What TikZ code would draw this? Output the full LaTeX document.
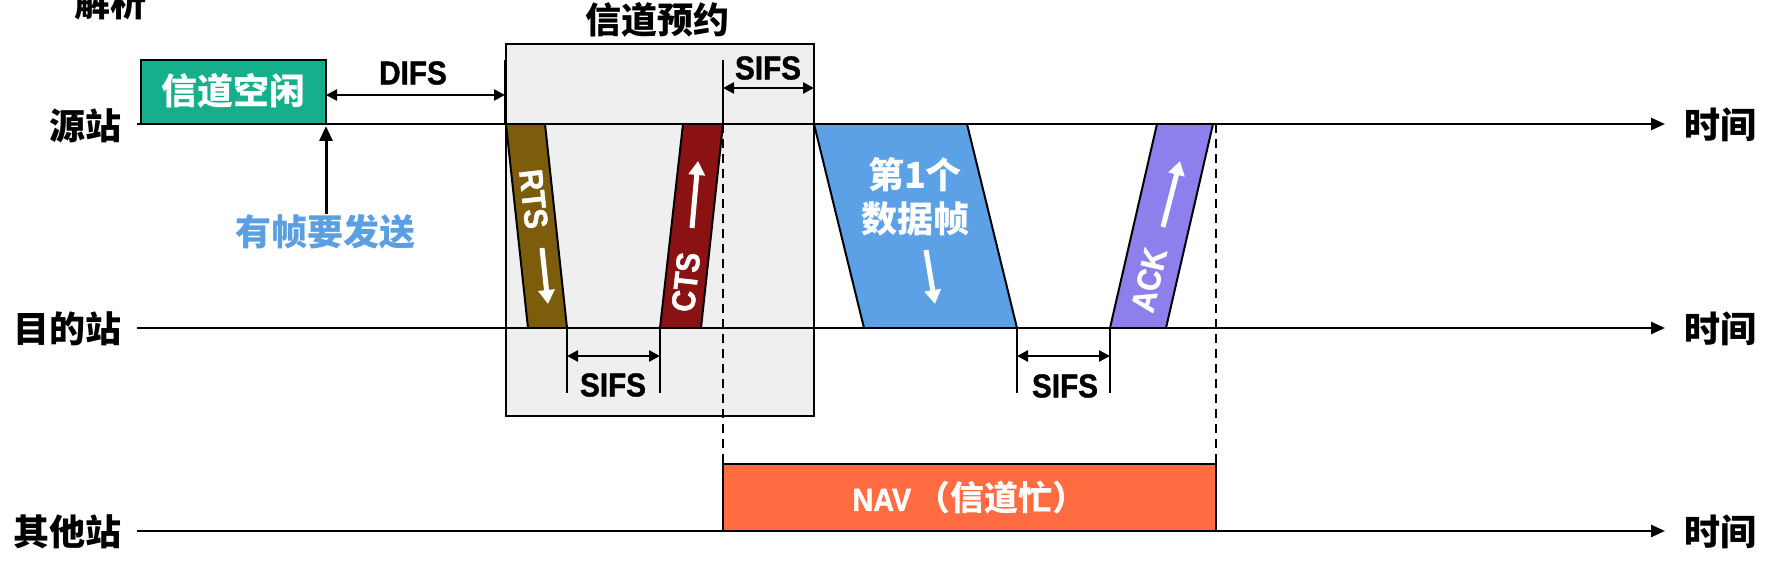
\documentclass[tikz,border=0pt]{standalone}
\usepackage{fontspec}
\setmainfont{Liberation Sans}[FakeStretch=0.9, BoldFeatures={FakeBold=1.2}]
\newfontfamily\cjkf{Noto Sans CJK SC}
\usetikzlibrary{arrows.meta}
\definecolor{idlegreen}{RGB}{22,175,140}
\definecolor{sendblue}{RGB}{91,158,226}
\definecolor{rtsbrown}{RGB}{125,92,12}
\definecolor{ctsred}{RGB}{138,18,18}
\definecolor{datablue}{RGB}{92,160,230}
\definecolor{ackpurple}{RGB}{142,128,236}
\definecolor{navorange}{RGB}{255,108,66}
\definecolor{boxgray}{RGB}{239,239,239}
\begin{document}
\begin{tikzpicture}[x=1pt,y=-1pt,
  cjkbig/.style={font=\cjkf\bfseries\fontsize{36}{40}\selectfont, inner sep=0pt},
  latbig/.style={font=\bfseries\fontsize{33}{36}\selectfont, inner sep=0pt},
  axisline/.style={line width=2.5pt, -{Triangle[length=14pt,width=12pt]}},
  dimarrow/.style={line width=2.5pt, {Triangle[length=11pt,width=11pt]}-{Triangle[length=11pt,width=11pt]}},
  tickline/.style={line width=2pt},
  framepoly/.style={draw=black, line width=2pt},
  whitearrow/.style={white, line width=5pt, -{Triangle[length=14pt,width=16pt]}},
  dashline/.style={line width=2pt, dash pattern=on 9pt off 6pt},
  plainbox/.style={draw=black, line width=2.5pt, inner sep=0pt, outer sep=0pt}
]
\useasboundingbox (0,0) rectangle (1765,561);

% reservation box
\node[plainbox, fill=boxgray, minimum width=308pt, minimum height=372pt] (resv) at (660,230) {};
\node[cjkbig] (resvt) at (657,20) {信道预约};
\node[cjkbig] (jiexi) at (110,3) {解析};

% station labels
\node[cjkbig, anchor=east] (src) at (122,126) {源站};
\node[cjkbig, anchor=east] (dst) at (122,329) {目的站};
\node[cjkbig, anchor=east] (oth) at (122,532) {其他站};
\node[cjkbig] (t1) at (1720,125) {时间};
\node[cjkbig] (t2) at (1720,329) {时间};
\node[cjkbig] (t3) at (1720,532) {时间};

% axes
\coordinate (a1s) at (137,124); \coordinate (a1e) at (1665,124);
\coordinate (a2s) at (137,328); \coordinate (a2e) at (1665,328);
\coordinate (a3s) at (137,531); \coordinate (a3e) at (1665,531);

% frames
\fill[rtsbrown] (506,124) -- (545,124) -- (567,328) -- (528,328) -- cycle;
\draw[framepoly] (506,124) -- (528,328) (545,124) -- (567,328);
\fill[ctsred] (683,124) -- (723,124) -- (701,328) -- (660,328) -- cycle;
\draw[framepoly] (683,124) -- (660,328) (723,124) -- (701,328);
\fill[datablue] (814,124) -- (967,124) -- (1017,328) -- (864,328) -- cycle;
\draw[framepoly] (814,124) -- (864,328) (967,124) -- (1017,328);
\fill[ackpurple] (1157,124) -- (1213,124) -- (1166,328) -- (1110,328) -- cycle;
\draw[framepoly] (1157,124) -- (1110,328) (1213,124) -- (1166,328);

% NAV box
\node[plainbox, fill=navorange, minimum width=493pt, minimum height=67pt] (nav) at (969.5,497.5) {};
\node[text=white, inner sep=0pt] (navt) at (969.5,498) {\bfseries\fontsize{32}{36}\selectfont NAV\,{\cjkf\bfseries\fontsize{34}{38}\selectfont （信道忙）}};

% dashed lines
\coordinate (d1t) at (723,124); \coordinate (d1b) at (723,464);
\coordinate (d2t) at (1216,124); \coordinate (d2b) at (1216,464);
\draw[dashline] (d1t) -- (d1b);
\draw[dashline] (d2t) -- (d2b);

\draw[axisline] (a1s) -- (a1e);
\draw[axisline] (a2s) -- (a2e);
\draw[axisline] (a3s) -- (a3e);

% idle box
\node[plainbox, fill=idlegreen, minimum width=185pt, minimum height=64pt] (idle) at (233.5,92) {};
\node[cjkbig, text=white] (idlet) at (233.5,91) {信道空闲};

% frame-to-send arrow
\node[cjkbig, text=sendblue] (send) at (325,232) {有帧要发送};
\coordinate (sendtip) at (326,126);
\draw[line width=3pt, -{Triangle[length=15pt,width=13pt]}] (send.north -| sendtip) -- (sendtip);

% DIFS
\coordinate (difsL) at (326,95); \coordinate (difsR) at (505,95);
\coordinate (difsTt) at (505,60); \coordinate (difsTb) at (505,124);
\draw[tickline] (difsTt) -- (difsTb);
\draw[dimarrow] (difsL) -- (difsR);
\node[latbig] (difs) at (413,73) {DIFS};

% SIFS top
\coordinate (s1t) at (723,60); \coordinate (s1b) at (723,124);
\draw[tickline] (s1t) -- (s1b);
\coordinate (s1L) at (723,88); \coordinate (s1R) at (814,88);
\draw[dimarrow] (s1L) -- (s1R);
\node[latbig] (sifs1) at (768,68) {SIFS};

% SIFS bottom 1
\coordinate (s2a) at (567,328); \coordinate (s2ab) at (567,393);
\coordinate (s2b) at (660,328); \coordinate (s2bb) at (660,393);
\draw[tickline] (s2a) -- (s2ab);
\draw[tickline] (s2b) -- (s2bb);
\coordinate (s2L) at (567,356); \coordinate (s2R) at (660,356);
\draw[dimarrow] (s2L) -- (s2R);
\node[latbig] (sifs2) at (613,385) {SIFS};

% SIFS bottom 2
\coordinate (s3a) at (1017,328); \coordinate (s3ab) at (1017,393);
\coordinate (s3b) at (1110,328); \coordinate (s3bb) at (1110,393);
\draw[tickline] (s3a) -- (s3ab);
\draw[tickline] (s3b) -- (s3bb);
\coordinate (s3L) at (1017,356); \coordinate (s3R) at (1110,356);
\draw[dimarrow] (s3L) -- (s3R);
\node[latbig] (sifs3) at (1065,386) {SIFS};

% frame texts
\node[latbig, text=white, rotate=-83.8] (rts) at (533.6,199) {RTS};
\coordinate (rtsA) at (542,248); \coordinate (rtsB) at (548,304);
\draw[whitearrow] (rtsA) -- (rtsB);
\node[latbig, text=white, rotate=83.7] (cts) at (685.8,282) {CTS};
\coordinate (ctsA) at (692,228); \coordinate (ctsB) at (698,161);
\draw[whitearrow] (ctsA) -- (ctsB);
\node[cjkbig, text=white, align=center, font=\cjkf\bfseries\fontsize{36}{44}\selectfont] (data) at (915,197) {第1个\\数据帧};
\coordinate (dataA) at (926,250); \coordinate (dataB) at (935,304);
\draw[whitearrow] (dataA) -- (dataB);
\node[latbig, text=white, rotate=77] (ack) at (1149,280) {ACK};
\coordinate (ackA) at (1163,227); \coordinate (ackB) at (1180,161);
\draw[whitearrow] (ackA) -- (ackB);
\end{tikzpicture}
\end{document}
